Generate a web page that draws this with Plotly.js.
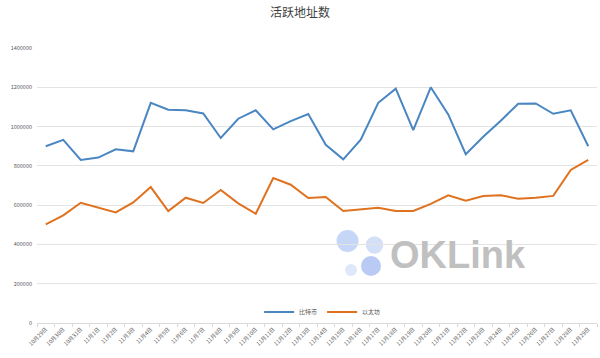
<!DOCTYPE html>
<html>
<head>
<meta charset="utf-8">
<script src="https://cdn.plot.ly/plotly-3.0.1.min.js"></script>
<style>html,body{margin:0;padding:0;background:#fff;}#chart{width:600px;height:358px;}</style>
</head>
<body>
<div id="chart"></div>
<script>
var dates = ["10月29日","10月30日","10月31日","11月1日","11月2日","11月3日","11月4日","11月5日","11月6日","11月7日","11月8日","11月9日","11月10日","11月11日","11月12日","11月13日","11月14日","11月15日","11月16日","11月17日","11月18日","11月19日","11月20日","11月21日","11月22日","11月23日","11月24日","11月25日","11月26日","11月27日","11月28日","11月29日"];
var bitcoin = [900000,932000,830000,842000,884000,874000,1121000,1086000,1083000,1067000,942000,1040000,1083000,986000,1028000,1064000,907000,833000,933000,1121000,1193000,982000,1200000,1062000,859000,948000,1030000,1116000,1118000,1065000,1083000,900000];
var ethereum = [502000,548000,612000,587000,563000,614000,692000,570000,638000,611000,677000,609000,556000,738000,704000,636000,641000,570000,577000,587000,570000,570000,606000,650000,623000,647000,650000,633000,638000,647000,779000,830000];
var seriesNames = ["比特币","以太坊"];

var L = 37, R = 3, T = 48, B = 35, W = 600, H = 358;
var pw = W - L - R, ph = H - T - B;
function px(x){ return (x - L) / pw; }
function py(y){ return (H - B - y) / ph; }
function circ(cx, cy, r, color){
  return {type:'circle', xref:'paper', yref:'paper', layer:'below',
    x0:px(cx-r), x1:px(cx+r), y0:py(cy+r), y1:py(cy-r),
    fillcolor:color, line:{width:0}};
}

var traces = [
  {x:dates, y:bitcoin, name:seriesNames[0], type:'scatter', mode:'lines',
   line:{color:'#4a86c2', width:2}},
  {x:dates, y:ethereum, name:seriesNames[1], type:'scatter', mode:'lines',
   line:{color:'#e0721f', width:2}}
];

var layout = {
  width:W, height:H,
  margin:{l:L, r:R, t:T, b:B, pad:0},
  paper_bgcolor:'#fff', plot_bgcolor:'#fff',
  font:{family:'"Noto Sans CJK SC", "Liberation Sans", sans-serif', color:'#595959', size:6},
  title:{text:'活跃地址数', x:0.5, xanchor:'center', y:0.965, yanchor:'middle',
    font:{family:'"Noto Sans CJK SC", sans-serif', size:12, color:'#404040'}},
  xaxis:{type:'category', tickangle:-45, showgrid:false, showline:true, linecolor:'#d9d9d9', linewidth:1,
    ticks:'outside', ticklen:3, tickcolor:'#d9d9d9', tickson:'boundaries',
    tickfont:{size:5.5, color:'#595959'}, automargin:false, range:[-0.5,31.5]},
  yaxis:{range:[0,1400000], dtick:200000, tickformat:'d', showgrid:true, gridcolor:'#e3e3e3', gridwidth:1,
    zeroline:true, zerolinecolor:'#d9d9d9', showline:false, ticks:'', ticklabelstandoff:4,
    tickfont:{size:5.5, color:'#595959'}, automargin:false},
  legend:{orientation:'h', x:0.51, xanchor:'center', y:py(312), yanchor:'middle',
    font:{size:6, color:'#595959'}, bgcolor:'rgba(0,0,0,0)', itemwidth:30, tracegroupgap:0},
  showlegend:true,
  shapes:[
    circ(347.5, 241, 11, '#c6d6f6'),
    circ(374.5, 245, 8.7, '#d4e0f8'),
    circ(351, 270, 6, '#dfe8fb'),
    circ(371, 266, 10, '#b9cbf4')
  ],
  annotations:[
    {text:'OKLink', xref:'paper', yref:'paper', x:px(458), y:py(255), xanchor:'center', yanchor:'middle',
     showarrow:false, font:{family:'"Liberation Sans", Arial, sans-serif', size:38, color:'#c0c0c0', weight:'bold'}}
  ]
};

Plotly.newPlot('chart', traces, layout, {displayModeBar:false, staticPlot:true});
</script>
</body>
</html>
